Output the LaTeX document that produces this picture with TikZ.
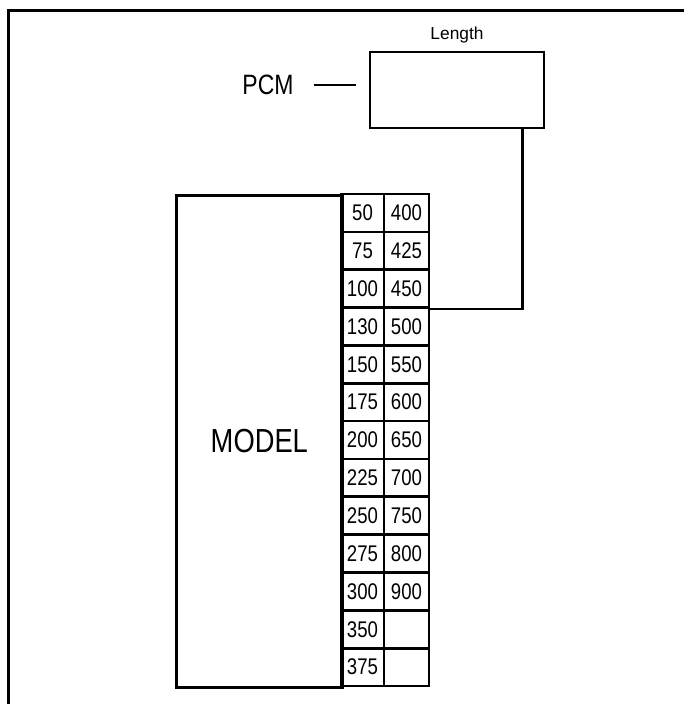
\documentclass[tikz,border=0pt]{standalone}
\usepackage{fontspec}
\setmainfont{Liberation Sans}[FakeStretch=0.82]
\newfontfamily\plainfont{Liberation Sans}
\usetikzlibrary{positioning,calc}

\begin{document}
\begin{tikzpicture}[
  x=0.75pt,y=-0.75pt,
  box/.style={draw,line width=2pt,inner sep=0pt},
  cell/.style={draw,line width=2pt,inner sep=0pt,minimum height=28.4pt,font=\fontsize{17}{20}\selectfont},
  link/.style={line width=2pt}
]
\useasboundingbox (0,0) rectangle (684,704);
\draw[line width=2.25pt] (8,704) -- (8,10) -- (684,10);
\node[box,minimum width=130.5pt,minimum height=57pt] (lenbox) at (457,90) {};
\node[inner sep=0pt,font=\plainfont\fontsize{13}{16}\selectfont] (lentitle) at (457,35) {Length};
\node[inner sep=0pt,font=\fontsize{21}{25}\selectfont] (pcm) at (268,85) {PCM};
\draw[link,shorten <=15pt,shorten >=9.75pt] (pcm.east) -- (pcm.east -| lenbox.west);
\node[box,anchor=north west,minimum width=124.5pt,minimum height=369pt,font=\fontsize{25}{30}\selectfont] (model) at (175,194) {MODEL};
\foreach \lo/\hi [count=\r] in {50/400,75/425,100/450,130/500,150/550,175/600,200/650,225/700,250/750,275/800,300/900,350/{},375/{}} {
  \node[cell,minimum width=32.25pt] (lo\r) at (362.5,{194+37.85*(\r-0.5)}) {\lo};
  \node[cell,minimum width=33.75pt] (hi\r) at (406.5,{194+37.85*(\r-0.5)}) {\hi};
}
\draw[link] ([xshift=-17.25pt]lenbox.south east) |- (hi3.south east);
\end{tikzpicture}
\end{document}
